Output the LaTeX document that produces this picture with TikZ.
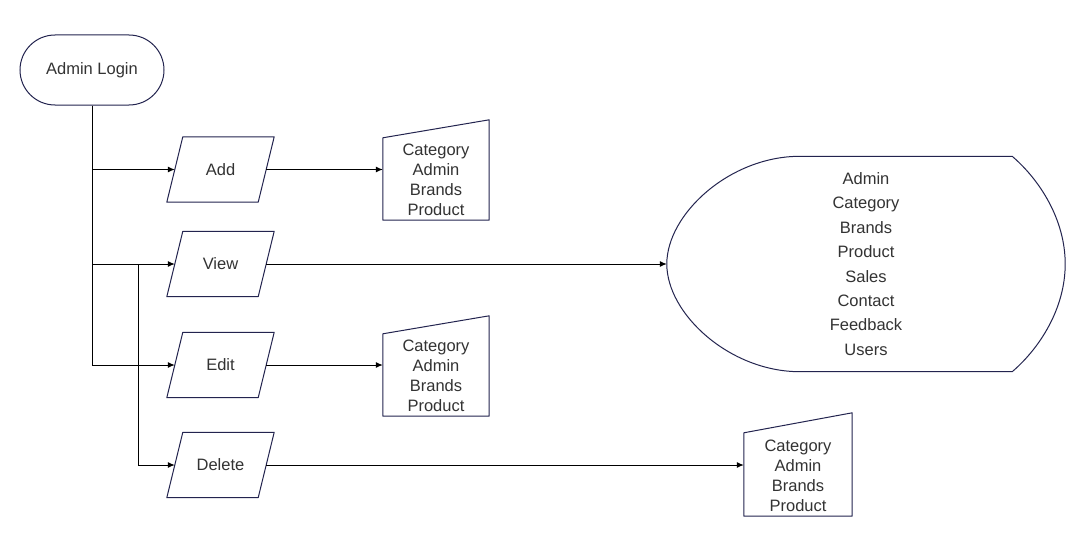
\documentclass[tikz,border=0pt]{standalone}
\usepackage{fontspec}
\setmainfont{Liberation Sans}
\usetikzlibrary{calc,arrows.meta}
\definecolor{shapeline}{HTML}{23244F}
\definecolor{txt}{HTML}{333333}
\begin{document}
\begin{tikzpicture}[x=1pt,y=-1pt,
  lbl/.style={font=\fontsize{16.5}{20}\selectfont, text=txt, align=center},
  term/.style={lbl, draw=shapeline, line width=1pt, rounded corners=35pt,
    minimum width=144pt, minimum height=70pt, inner sep=0pt},
  iobox/.style={lbl, minimum width=91pt, minimum height=65pt, inner sep=0pt},
  mibox/.style={minimum width=106pt, minimum height=100pt, inner sep=0pt},
  outline/.style={draw=shapeline, line width=1pt, line join=round},
  link/.style={draw=black, line width=1pt, -{Latex[length=7pt,width=6pt]}},
  listtext/.style={lbl, font=\fontsize{16.5}{24.4}\selectfont}
]
\fill[white] (0,0) rectangle (1084,551);
\useasboundingbox (0,0) rectangle (1084,551);

% start terminal
\node[term] (login) at (92,70) {Admin Login};

% input/output parallelograms
\node[iobox] (add)  at (220.5,169.5) {Add};
\node[iobox] (view) at (220.5,264)   {View};
\node[iobox] (edit) at (220.5,365)   {Edit};
\node[iobox] (del)  at (220.5,465)   {Delete};
\foreach \n in {add,view,edit,del}
  \draw[outline] ($(\n.north west)+(8,0)$) -- ($(\n.north east)+(8,0)$)
    -- ($(\n.south east)+(-8,0)$) -- ($(\n.south west)+(-8,0)$) -- cycle;

% manual input boxes
\node[mibox] (c1) at (436,170) {};
\node[mibox] (c2) at (436,366) {};
\node[mibox, minimum width=108pt, minimum height=103pt] (c3) at (798,464.5) {};
\foreach \n in {c1,c2}
  \draw[outline] (\n.south west) -- (\n.south east) -- (\n.north east)
    -- ($(\n.north west)+(0,18)$) -- cycle;
\draw[outline] (c3.south west) -- (c3.south east) -- (c3.north east)
  -- ($(c3.north west)+(0,20)$) -- cycle;
\node[lbl] (c1t) at ($(c1)+(0,10)$) {Category\\Admin\\Brands\\Product};
\node[lbl] (c2t) at ($(c2)+(0,10)$) {Category\\Admin\\Brands\\Product};
\node[lbl] (c3t) at ($(c3)+(0,11.5)$) {Category\\Admin\\Brands\\Product};

% display shape
\node[listtext, minimum width=398pt, minimum height=215pt, inner sep=0pt]
  (disp) at (866,264)
  {Admin\\Category\\Brands\\Product\\Sales\\Contact\\Feedback\\Users};
\draw[outline] ($(disp.north west)+(133,0)$) -- ($(disp.north east)+(-53,0)$)
  .. controls ($(disp.north east)+(-25,24)$) and ($(disp.east)+(0,-44)$) .. (disp.east)
  .. controls ($(disp.east)+(0,44)$) and ($(disp.south east)+(-25,-24)$) .. ($(disp.south east)+(-53,0)$)
  -- ($(disp.south west)+(133,0)$)
  .. controls ($(disp.south west)+(63,0)$) and ($(disp.west)+(0,50)$) .. (disp.west)
  .. controls ($(disp.west)+(0,-50)$) and ($(disp.north west)+(63,0)$) .. ($(disp.north west)+(133,0)$)
  -- cycle;

% connectors
\coordinate (split) at (138,264);
\draw[link] (login.south) |- (add.west);
\draw[link] (login.south) |- (view.west);
\draw[link] (login.south) |- (edit.west);
\draw[link] (split) |- (del.west);
\draw[link] (add.east) -- (add.east -| c1.west);
\draw[link] (view.east) -- (disp.west);
\draw[link] (edit.east) -- (edit.east -| c2.west);
\draw[link] (del.east) -- (del.east -| c3.west);
\end{tikzpicture}
\end{document}
